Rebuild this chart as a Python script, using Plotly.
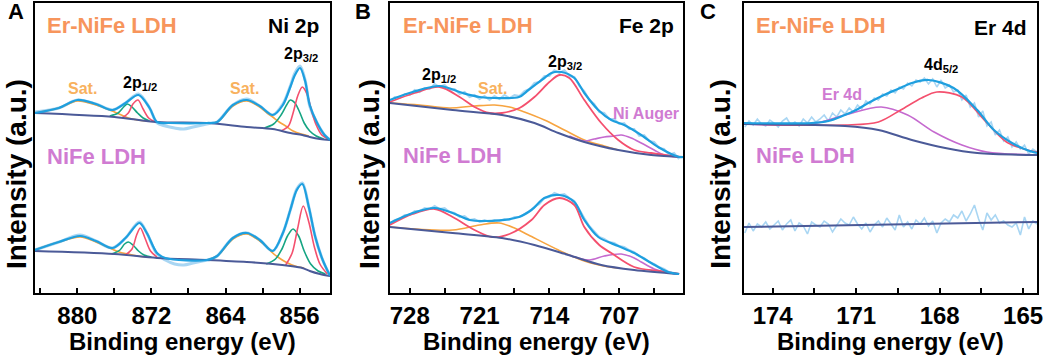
import plotly.graph_objects as go

W, H = 1052, 355

# ---------------- Panel A : Ni 2p ----------------
A_ER_ENV_E = [884.6, 882.0, 880.0, 878.0, 876.2, 874.8, 873.4, 872.2, 871.4, 870.0, 866.0, 864.9, 863.2, 861.7, 860.3, 858.9, 857.8, 857.0, 856.5, 855.95, 855.4, 854.9, 854.1, 853.3, 852.7]
A_ER_ENV = [180, 185, 193, 189, 183, 190, 198, 185, 171, 170, 170, 171, 188, 193, 187, 178, 188, 206, 218, 225, 212, 188, 170, 158, 153]
A_ER_RAW_E = [884.6, 882.0, 880.0, 878.0, 876.2, 874.8, 873.4, 872.2, 871.4, 870.5, 869.5, 868.5, 867.5, 866.5, 865.5, 864.9, 863.2, 861.7, 860.3, 858.9, 857.8, 857.0, 856.5, 855.95, 855.4, 854.9, 854.1, 853.3, 852.7]
A_ER_RAW = [181, 185, 193, 189, 183, 190, 199, 185, 170, 167, 165, 164, 166, 168, 170, 171, 188, 194, 187, 178, 189, 207, 220, 227, 213, 187, 170, 158, 153]
A_ER_BG_E = [884.6, 876.0, 871.4, 866.0, 861.7, 858.9, 857.0, 855.7, 854.9, 853.8, 852.7]
A_ER_BG = [180, 176, 171, 170, 166, 164, 160, 158, 156, 154, 153]
A_ER_SAT1_E = [884.6, 882.0, 880.0, 878.0, 876.5, 875.5, 874.5, 873.5, 872.5]
A_ER_SAT1 = [180, 185, 192, 188, 183, 179, 175, 173, 172]
A_ER_SAT2_E = [866.0, 864.9, 863.2, 861.7, 860.3, 859.5, 858.9, 858.2, 857.5, 856.7, 855.8, 855.0]
A_ER_SAT2 = [170, 171, 187, 192, 186, 180, 176, 171, 167, 162, 159, 157]
A_ER_G1_E = [876.5, 875.6, 875.0, 874.6, 874.1, 873.5, 872.9, 872.2]
A_ER_G1 = [177, 180, 186, 189, 186, 180, 175, 172]
A_ER_R1_E = [875.2, 874.5, 874.0, 873.45, 872.9, 872.3, 871.6]
A_ER_R1 = [175, 180, 189, 193, 184, 175, 171]
A_ER_G2_E = [859.8, 858.8, 858.0, 857.4, 857.0, 856.5, 856.0, 855.5, 854.9, 854.2, 853.4]
A_ER_G2 = [165, 169, 178, 188, 193, 190, 181, 170, 162, 157, 154]
A_ER_R2_E = [858.0, 857.2, 856.7, 856.2, 855.7, 855.2, 854.7, 854.2, 853.6, 852.9]
A_ER_R2 = [162, 167, 180, 197, 206, 199, 182, 168, 158, 154]

A_NI_ENV_E = [884.6, 882.0, 879.7, 878.0, 876.2, 874.8, 873.3, 872.5, 871.4, 870.5, 866.0, 864.9, 863.2, 861.7, 860.3, 858.9, 857.8, 857.0, 856.3, 855.7, 855.0, 854.3, 853.5, 852.7]
A_NI_ENV = [43, 51, 57, 52, 45, 55, 70, 60, 40, 35, 33, 37, 55, 60, 53, 42, 60, 83, 103, 109, 86, 56, 33, 17]
A_NI_RAW_E = [884.6, 882.0, 879.7, 878.0, 876.2, 874.8, 873.3, 872.5, 871.4, 870.5, 869.5, 868.5, 867.5, 866.5, 865.5, 864.9, 863.2, 861.7, 860.3, 858.9, 857.8, 857.0, 856.3, 855.7, 855.0, 854.3, 853.5, 852.7]
A_NI_RAW = [43, 51, 58, 52, 45, 55, 71, 60, 39, 33, 29, 28, 30, 32, 34, 37, 55, 60, 53, 42, 60, 83, 104, 110, 86, 56, 33, 17]
A_NI_BG_E = [884.6, 876.0, 871.4, 866.0, 861.7, 858.9, 857.0, 855.7, 854.9, 853.8, 852.7]
A_NI_BG = [42, 39, 35, 33, 31, 29, 27, 25, 22, 19, 17]
A_NI_SAT1_E = [884.6, 882.0, 879.7, 878.0, 876.5, 875.5, 874.5, 873.5, 872.5]
A_NI_SAT1 = [43, 51, 56, 51, 45, 41, 39, 37, 36]
A_NI_SAT2_E = [866.0, 864.9, 863.2, 861.7, 860.3, 859.5, 858.9, 858.2, 857.5, 856.5, 855.5]
A_NI_SAT2 = [33, 37, 54, 59, 52, 46, 40, 35, 31, 27, 25]
A_NI_G1_E = [876.3, 875.4, 874.9, 874.5, 874.0, 873.4, 872.8, 872.0]
A_NI_G1 = [39, 43, 49, 51, 48, 42, 38, 36]
A_NI_R1_E = [874.8, 874.1, 873.6, 873.2, 872.7, 872.1, 871.4]
A_NI_R1 = [38, 44, 58, 65, 55, 42, 36]
A_NI_G2_E = [859.6, 858.6, 857.9, 857.3, 856.7, 856.1, 855.5, 854.8, 854.0, 853.2]
A_NI_G2 = [29, 34, 44, 57, 64, 57, 42, 29, 22, 19]
A_NI_R2_E = [857.5, 856.8, 856.2, 855.6, 855.0, 854.4, 853.8, 853.0]
A_NI_R2 = [28, 40, 65, 87, 71, 46, 29, 19]

# ---------------- Panel B : Fe 2p ----------------
B_ER_ENV_E = [730.0, 727.7, 725.0, 722.7, 721.0, 719.5, 717.05, 716.1, 714.5, 713.8, 712.8, 711.5, 710.5, 709.1, 707.8, 706.5, 704.8, 703.1, 701.0, 700.6]
B_ER_ENV = [193, 201, 207, 200, 196, 195, 196, 203, 215, 220, 221, 215, 200, 183, 173, 168, 158, 146, 136, 136]
B_ER_RAW_E = [730.0, 729.5, 729.0, 728.5, 728.0, 727.5, 727.0, 726.5, 726.0, 725.5, 725.0, 724.5, 724.0, 723.5, 723.0, 722.5, 722.0, 721.5, 721.0, 720.5, 720.0, 719.5, 719.0, 718.5, 718.0, 717.5, 717.0, 716.5, 716.0, 715.5, 715.0, 714.5, 714.0, 713.5, 713.0, 712.5, 712.0, 711.5, 711.0, 710.5, 710.0, 709.5, 709.0, 708.5, 708.0, 707.5, 707.0, 706.5, 706.0, 705.5, 705.0, 704.5, 704.0, 703.5, 703.0, 702.5, 702.0, 701.5, 701.0]
B_ER_RAW = [191, 196, 195, 199, 198, 203, 201, 205, 204, 209, 206, 208, 203, 204, 199, 201, 196, 198, 194, 197, 193, 197, 194, 198, 195, 198, 197, 202, 204, 210, 211, 217, 217, 223, 220, 223, 217, 216, 207, 202, 193, 189, 181, 180, 174, 174, 169, 170, 164, 164, 157, 158, 152, 151, 145, 144, 138, 140, 134]
B_ER_BG_E = [730.0, 723.7, 718.75, 715.5, 713.1, 710.5, 707.1, 703.8, 700.6]
B_ER_BG = [190, 183, 178, 170, 160, 151, 143, 138, 136]
B_ER_RED_E = [730.0, 727.5, 725.0, 723.0, 721.5, 720.0, 718.75, 717.0, 715.5, 714.0, 713.0, 712.0, 710.5, 708.8, 707.1, 705.5, 703.8, 701.0]
B_ER_RED = [191, 200, 206, 196, 186, 180, 180, 185, 196, 211, 218, 215, 193, 170, 153, 143, 140, 136]
B_ER_SAT_E = [730.0, 727.0, 724.0, 721.5, 719.5, 718.0, 716.5, 714.5, 712.5, 710.5, 708.5, 707.1]
B_ER_SAT = [190, 188, 185, 187, 188, 186, 181, 173, 163, 153, 147, 143]
B_ER_AUG_E = [712.0, 710.5, 709.5, 708.5, 707.5, 706.8, 705.8, 704.8, 703.5, 702.5, 701.0]
B_ER_AUG = [157, 152, 154, 156, 157, 158, 155, 150, 143, 138, 136]

B_NI_ENV_E = [730.0, 727.7, 725.5, 723.7, 722.0, 720.4, 717.05, 715.8, 714.5, 713.0, 711.5, 710.5, 709.1, 707.1, 705.5, 703.8, 702.1, 701.0]
B_NI_ENV = [70, 80, 85, 80, 73, 72, 76, 83, 95, 98, 91, 73, 56, 47, 40, 30, 21, 19]
B_NI_RAW_E = B_ER_RAW_E
B_NI_RAW = [69, 73, 74, 78, 78, 82, 82, 85, 84, 87, 84, 85, 81, 80, 76, 77, 73, 74, 71, 73, 71, 73, 72, 74, 73, 76, 76, 79, 82, 86, 89, 95, 96, 100, 98, 99, 95, 92, 83, 75, 67, 61, 56, 54, 51, 50, 47, 46, 43, 41, 37, 35, 31, 29, 26, 24, 21, 20, 19]
B_NI_BG_E = [730.0, 723.7, 718.75, 715.5, 712.1, 708.8, 705.5, 701.0]
B_NI_BG = [66, 60, 55, 48, 38, 28, 23, 19]
B_NI_RED_E = [730.0, 727.7, 725.5, 723.7, 721.5, 719.75, 718.0, 715.8, 714.5, 713.0, 711.5, 710.5, 709.0, 707.8, 705.5, 703.0, 701.0]
B_NI_RED = [68, 79, 84, 76, 63, 56, 59, 73, 88, 95, 88, 66, 48, 40, 26, 22, 19]
B_NI_SAT_E = [730.0, 723.7, 721.0, 719.05, 717.5, 716.1, 713.1, 710.5, 708.0, 707.1]
B_NI_SAT = [66, 63, 68, 70, 65, 58, 43, 32, 26, 25]
B_NI_AUG_E = [712.1, 710.0, 708.5, 706.8, 705.5, 704.8, 703.5, 702.5, 701.0]
B_NI_AUG = [38, 33, 37, 39, 35, 31, 24, 21, 19]

# ---------------- Panel C : Er 4d ----------------
C_ER_ENV_E = [175.04, 172.6, 172.0, 171.5, 171.0, 170.5, 170.0, 169.5, 169.0, 168.4, 167.5, 166.65, 166.05, 165.4, 164.86, 164.5]
C_ER_ENV = [170, 170, 172, 177, 183, 191, 198, 204, 210, 213, 205, 183, 163, 150, 143, 140]
C_ER_BG_E = [175.04, 171.4, 170.2, 169.0, 167.8, 166.65, 164.5]
C_ER_BG = [169, 167, 163, 153, 145, 140, 138]
C_ER_RED_E = [175.04, 171.4, 170.2, 169.4, 168.65, 168.1, 167.2, 166.4, 165.6, 164.86, 164.5]
C_ER_RED = [169, 168, 171, 183, 195, 201, 196, 173, 151, 143, 141]
C_ER_PUR_E = [175.04, 172.6, 171.4, 170.1, 169.15, 168.2, 167.2, 166.3, 164.5]
C_ER_PUR = [169, 169, 178, 186, 178, 161, 148, 141, 138]
C_RAW_E = [175.00, 174.85, 174.70, 174.55, 174.40, 174.25, 174.10, 173.95, 173.80, 173.65, 173.50, 173.35, 173.20, 173.05, 172.90, 172.75, 172.60, 172.45, 172.30, 172.15, 172.00, 171.85, 171.70, 171.55, 171.40, 171.25, 171.10, 170.95, 170.80, 170.65, 170.50, 170.35, 170.20, 170.05, 169.90, 169.75, 169.60, 169.45, 169.30, 169.15, 169.00, 168.85, 168.70, 168.55, 168.40, 168.25, 168.10, 167.95, 167.80, 167.65, 167.50, 167.35, 167.20, 167.05, 166.90, 166.75, 166.60, 166.45, 166.30, 166.15, 166.00, 165.85, 165.70, 165.55, 165.40, 165.25, 165.10, 164.95, 164.80, 164.65, 164.50]
C_ER_RAW = [166, 172, 168, 174, 169, 167, 173, 170, 166, 172, 175, 168, 171, 167, 174, 170, 176, 171, 174, 178, 172, 180, 176, 183, 179, 185, 181, 188, 184, 192, 189, 195, 193, 199, 197, 203, 200, 206, 204, 210, 207, 213, 211, 215, 209, 214, 206, 213, 205, 208, 201, 203, 193, 198, 186, 190, 176, 182, 167, 171, 158, 163, 152, 156, 146, 151, 144, 148, 139, 144, 141]
C_NI_RAW = [60, 70, 62, 69, 66, 71, 64, 68, 72, 63, 69, 73, 62, 70, 67, 59, 71, 68, 66, 72, 69, 61, 67, 74, 70, 68, 76, 69, 64, 70, 61, 68, 72, 66, 75, 69, 63, 78, 66, 71, 64, 73, 69, 75, 67, 72, 60, 70, 74, 71, 78, 75, 82, 72, 79, 88, 74, 63, 80, 73, 78, 70, 72, 68, 66, 70, 58, 76, 64, 72, 69]
C_NI_BG_E = [175.04, 164.5]
C_NI_BG = [66, 71]

# ---------------- styling ----------------
C_ENV = "#1E9FDF"
C_RAW = "#A9D6F3"
C_BG = "#4B5A98"
C_RED = "#F4506E"
C_GRN = "#16A583"
C_ORG = "#F7A440"
C_PUR = "#C56ACF"
T_ORG = "#F7955C"
T_SAT = "#F8B15E"
T_PUR = "#D07BD2"
FONT = "Liberation Sans, Arial, sans-serif"

fig = go.Figure()


def add(xs, ys, color, width, ax, shape="spline"):
    line = dict(color=color, width=width, shape=shape)
    if shape == "spline":
        line["smoothing"] = 0.9
    fig.add_trace(go.Scatter(x=xs, y=ys, mode="lines", line=line,
                             xaxis="x" + ax, yaxis="y" + ax,
                             showlegend=False, hoverinfo="skip"))


# Panel A
for env_e, env, raw_e, raw, bg_e, bg, s1e, s1, s2e, s2, g1e, g1, r1e, r1, g2e, g2, r2e, r2 in [
    (A_ER_ENV_E, A_ER_ENV, A_ER_RAW_E, A_ER_RAW, A_ER_BG_E, A_ER_BG, A_ER_SAT1_E, A_ER_SAT1, A_ER_SAT2_E, A_ER_SAT2,
     A_ER_G1_E, A_ER_G1, A_ER_R1_E, A_ER_R1, A_ER_G2_E, A_ER_G2, A_ER_R2_E, A_ER_R2),
    (A_NI_ENV_E, A_NI_ENV, A_NI_RAW_E, A_NI_RAW, A_NI_BG_E, A_NI_BG, A_NI_SAT1_E, A_NI_SAT1, A_NI_SAT2_E, A_NI_SAT2,
     A_NI_G1_E, A_NI_G1, A_NI_R1_E, A_NI_R1, A_NI_G2_E, A_NI_G2, A_NI_R2_E, A_NI_R2)]:
    add(raw_e, raw, C_RAW, 3, "")
    add(s1e, s1, C_ORG, 1.6, "")
    add(s2e, s2, C_ORG, 1.6, "")
    add(g1e, g1, C_GRN, 1.6, "")
    add(g2e, g2, C_GRN, 1.6, "")
    add(r1e, r1, C_RED, 1.6, "")
    add(r2e, r2, C_RED, 1.6, "")
    add(bg_e, bg, C_BG, 2, "")
    add(env_e, env, C_ENV, 2.2, "")

# Panel B
add(B_ER_RAW_E, B_ER_RAW, C_RAW, 2, "2", "linear")
add(B_ER_SAT_E, B_ER_SAT, C_ORG, 1.6, "2")
add(B_ER_AUG_E, B_ER_AUG, C_PUR, 1.6, "2")
add(B_ER_RED_E, B_ER_RED, C_RED, 1.8, "2")
add(B_ER_BG_E, B_ER_BG, C_BG, 2, "2")
add(B_ER_ENV_E, B_ER_ENV, C_ENV, 2.2, "2")
add(B_NI_RAW_E, B_NI_RAW, C_RAW, 2, "2", "linear")
add(B_NI_SAT_E, B_NI_SAT, C_ORG, 1.6, "2")
add(B_NI_AUG_E, B_NI_AUG, C_PUR, 1.6, "2")
add(B_NI_RED_E, B_NI_RED, C_RED, 1.8, "2")
add(B_NI_BG_E, B_NI_BG, C_BG, 2, "2")
add(B_NI_ENV_E, B_NI_ENV, C_ENV, 2.2, "2")

# Panel C
add(C_RAW_E, C_ER_RAW, C_RAW, 1.6, "3", "linear")
add(C_ER_PUR_E, C_ER_PUR, C_PUR, 1.6, "3")
add(C_ER_RED_E, C_ER_RED, C_RED, 1.6, "3")
add(C_ER_BG_E, C_ER_BG, C_BG, 2, "3")
add(C_ER_ENV_E, C_ER_ENV, C_ENV, 2.2, "3")
add(C_RAW_E, C_NI_RAW, C_RAW, 1.6, "3", "linear")
add(C_NI_BG_E, C_NI_BG, C_BG, 2, "3", "linear")


def px(x):
    return x / W


def py(y):
    return 1 - y / H


ydom = [py(293), py(3)]
common_x = dict(showline=True, linecolor="black", linewidth=2, mirror=True, ticks="inside",
                ticklen=5, tickwidth=1.6, tickcolor="black", showgrid=False, zeroline=False,
                tickfont=dict(family=FONT, size=24, color="black"), ticklabelstandoff=0)
common_y = dict(showline=True, linecolor="black", linewidth=2, mirror=True, ticks="",
                showticklabels=False, showgrid=False, zeroline=False, range=[0, 290], domain=ydom)

fig.update_layout(
    width=W, height=H, margin=dict(l=0, r=0, t=0, b=0),
    paper_bgcolor="white", plot_bgcolor="white",
    xaxis=dict(common_x, domain=[px(35), px(332)], range=[884.6, 852.7], tickmode="linear", tick0=856, dtick=8,
               tickprefix="<b>", ticksuffix="</b>",
               minor=dict(ticks="inside", ticklen=5, tickwidth=1.6, tickcolor="black", tick0=856, dtick=4),
               anchor="y"),
    yaxis=dict(common_y, anchor="x"),
    xaxis2=dict(common_x, domain=[px(392), px(687)], range=[730.0, 700.6], tickmode="linear", tick0=707, dtick=7,
                tickprefix="<b>", ticksuffix="</b>",
                minor=dict(ticks="inside", ticklen=5, tickwidth=1.6, tickcolor="black", tick0=707, dtick=3.5),
                anchor="y2"),
    yaxis2=dict(common_y, anchor="x2"),
    xaxis3=dict(common_x, domain=[px(748), px(1043)], range=[175.04, 164.5], tickmode="linear", tick0=165, dtick=3,
                tickprefix="<b>", ticksuffix="</b>",
                minor=dict(ticks="inside", ticklen=5, tickwidth=1.6, tickcolor="black", tick0=165, dtick=1.5),
                anchor="y3"),
    yaxis3=dict(common_y, anchor="x3"),
)

ann = []


def text(t, x, y, size, color="black", xanchor="center", angle=0):
    ann.append(dict(text="<b>" + t + "</b>", x=px(x), y=py(y), xref="paper", yref="paper",
                    xanchor=xanchor, yanchor="middle", showarrow=False, textangle=angle,
                    font=dict(family=FONT, size=size, color=color)))


# panel letters
text("A", 16, 12, 22)
text("B", 365, 12, 22)
text("C", 712, 12, 22)
# Panel A labels
text("Er-NiFe LDH", 45, 25, 22, T_ORG, "left")
text("Ni 2p", 323, 25, 21, "black", "right")
text("NiFe LDH", 45, 156, 22, T_PUR, "left")
text("Sat.", 83, 88, 16, T_SAT)
text("2p<sub>1/2</sub>", 141, 83, 16)
text("Sat.", 246, 88, 16, T_SAT)
text("2p<sub>3/2</sub>", 303, 54, 16)
# Panel B labels
text("Er-NiFe LDH", 403, 25, 22, T_ORG, "left")
text("Fe 2p", 680, 25, 21, "black", "right")
text("NiFe LDH", 403, 155, 22, T_PUR, "left")
text("2p<sub>1/2</sub>", 442, 76, 16)
text("Sat.", 495, 88, 16, T_SAT)
text("2p<sub>3/2</sub>", 568, 63, 16)
text("Ni Auger", 650, 113, 16, T_PUR)
# Panel C labels
text("Er-NiFe LDH", 758, 25, 22, T_ORG, "left")
text("Er 4d", 1035, 27, 21, "black", "right")
text("NiFe LDH", 758, 155, 22, T_PUR, "left")
text("4d<sub>5/2</sub>", 946, 66, 16)
text("Er 4d", 847, 95, 16, T_PUR)
# axis titles
for cx in (183.5, 539.5, 895.5):
    text("Binding energy (eV)", cx, 341, 24)
for cx in (16, 371, 724):
    text("Intensity (a.u.)", cx, 174, 28, "black", "center", -90)

fig.update_layout(annotations=ann)
fig.write_html("out.html", config={"displayModeBar": False},
               post_script="document.body.style.margin='0';document.body.style.overflow='hidden';")
